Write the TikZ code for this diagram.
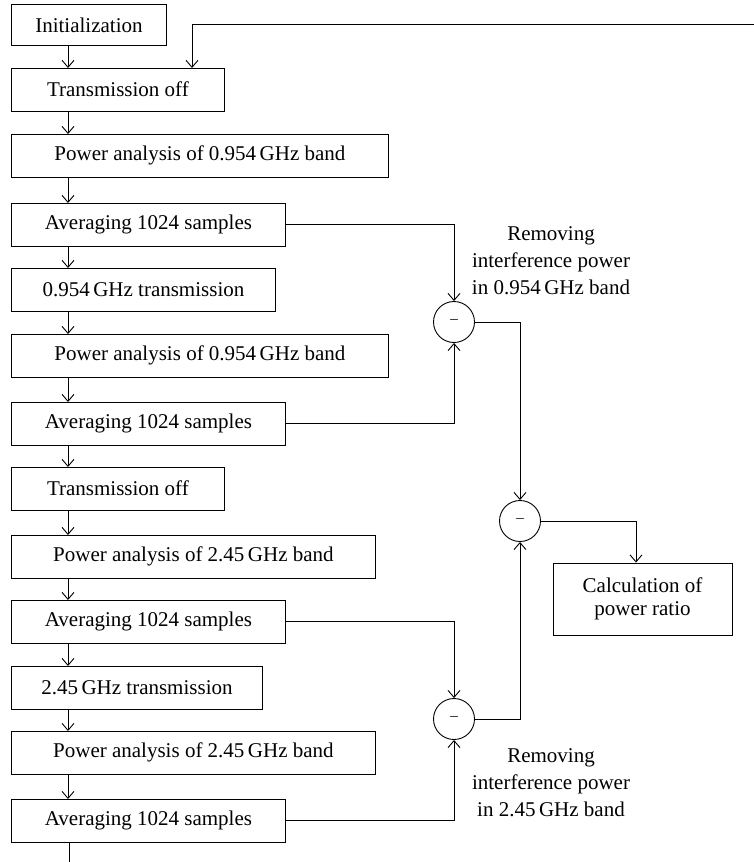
\documentclass[tikz,border=0pt]{standalone}
\usepackage{fontspec}
\setmainfont{Liberation Serif}
\usetikzlibrary{arrows.meta}
\begin{document}
\begin{tikzpicture}[x=1pt,y=-1pt,
  font=\fontsize{21}{27}\selectfont,
  line width=0.9pt,
  box/.style={draw, rectangle, anchor=north west, minimum height=42.5pt, inner sep=0pt},
  arr/.style={-{Straight Barb[length=7pt,width=12pt]}},
  sub/.style={draw, circle, minimum size=41pt, inner sep=0pt, font=\fontsize{15}{15}\selectfont},
  lbl/.style={align=center}]
\useasboundingbox (0,0) rectangle (754,862);

\node[box, minimum width=155pt, minimum height=41pt] (b1) at (11,4) {Initialization};
\node[box, minimum width=213pt] (b2) at (11,68) {Transmission off};
\node[box, minimum width=377pt] (b3) at (11,134) {Power analysis of 0.954\,GHz band};
\node[box, minimum width=274pt] (b4) at (11,203) {Averaging 1024 samples};
\node[box, minimum width=264pt] (b5) at (11,268) {0.954\,GHz transmission};
\node[box, minimum width=377pt] (b6) at (11,334) {Power analysis of 0.954\,GHz band};
\node[box, minimum width=274pt] (b7) at (11,402) {Averaging 1024 samples};
\node[box, minimum width=213pt] (b8) at (11,467) {Transmission off};
\node[box, minimum width=364pt] (b9) at (11,535) {Power analysis of 2.45\,GHz band};
\node[box, minimum width=274pt] (b10) at (11,600) {Averaging 1024 samples};
\node[box, minimum width=251pt] (b11) at (11,666) {2.45\,GHz transmission};
\node[box, minimum width=364pt] (b12) at (11,731) {Power analysis of 2.45\,GHz band};
\node[box, minimum width=274pt] (b13) at (11,799) {Averaging 1024 samples};

\node[sub] (c1) at (454,322) {–};
\node[sub] (c2) at (520,521) {–};
\node[sub] (c3) at (454,719) {–};

\node[draw, rectangle, minimum width=179pt, minimum height=72pt, inner sep=0pt, align=center,
  font=\fontsize{21}{23}\selectfont] (calc) at (642.5,599) {Calculation of\\power ratio};

\node[lbl] (l1) at (551,261) {Removing\\interference power\\in 0.954\,GHz band};
\node[lbl] (l2) at (551,783) {Removing\\interference power\\in 2.45\,GHz band};

\foreach \a/\b in {b1/b2,b2/b3,b3/b4,b4/b5,b5/b6,b6/b7,b7/b8,b8/b9,b9/b10,b10/b11,b11/b12,b12/b13}
  \draw[arr] ([xshift=57pt]\a.south west) -- ([xshift=57pt]\b.north west);

\coordinate (fb) at (754,24);
\coordinate (end) at (69,862);
\draw[arr] (fb) -| ([xshift=181pt]b2.north west);
\draw ([xshift=58pt]b13.south west) -- (end);

\draw[arr] (b4.east) -| (c1.north);
\draw[arr] (b7.east) -| (c1.south);
\draw[arr] (b10.east) -| (c3.north);
\draw[arr] (b13.east) -| (c3.south);
\draw[arr] (c1.east) -| (c2.north);
\draw[arr] (c3.east) -| (c2.south);
\draw[arr] (c2.east) -| ([xshift=-6.5pt]calc.north);
\end{tikzpicture}
\end{document}
